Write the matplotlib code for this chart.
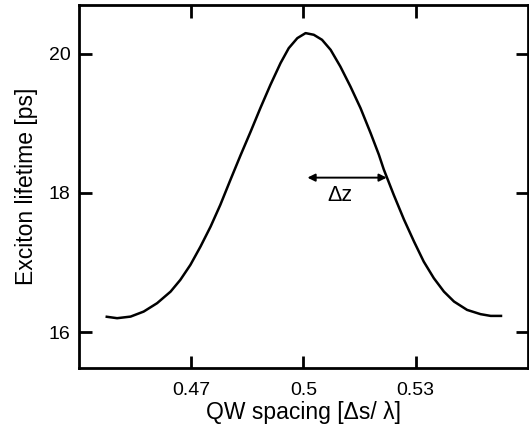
import matplotlib
matplotlib.use("Agg")
import matplotlib.pyplot as plt

# QW spacing [Δs/λ] vs exciton lifetime [ps]
spacing = [0.4471, 0.4502, 0.4538, 0.4573, 0.4609, 0.4645, 0.4671, 0.4698, 0.4725,
           0.4752, 0.4778, 0.4805, 0.4832, 0.4859, 0.4885, 0.4912, 0.4939, 0.4961,
           0.4984, 0.5006, 0.5028, 0.5050, 0.5073, 0.5099, 0.5126, 0.5153, 0.5180,
           0.5202, 0.5215, 0.5242, 0.5269, 0.5296, 0.5322, 0.5349, 0.5376, 0.5403,
           0.5438, 0.5474, 0.5501, 0.5532]
lifetime = [16.224, 16.201, 16.224, 16.296, 16.417, 16.583, 16.751, 16.967, 17.230,
            17.517, 17.829, 18.188, 18.540, 18.880, 19.218, 19.553, 19.865, 20.080,
            20.224, 20.296, 20.272, 20.200, 20.056, 19.816, 19.529, 19.218, 18.859,
            18.550, 18.340, 17.970, 17.620, 17.302, 17.014, 16.776, 16.583, 16.440,
            16.320, 16.259, 16.234, 16.234]

xticks = [0.47, 0.5, 0.53]
xtick_labels = ["0.47", "0.5", "0.53"]
yticks = [16, 18, 20]
arrow_x = [0.5011, 0.5223]
arrow_y = 18.22
label_pos = (0.5099, 17.97)

plt.rcParams['font.family'] = ['Liberation Sans', 'DejaVu Sans']

fig = plt.figure(figsize=(5.29, 4.30), dpi=100)
ax = fig.add_axes([0.1493, 0.1449, 0.8482, 0.8435])

ax.plot(spacing, lifetime, color='black', lw=1.8,
        solid_joinstyle='round', solid_capstyle='butt')

ax.set_xlim(0.44, 0.56)
ax.set_ylim(15.49, 20.70)
ax.set_xticks(xticks)
ax.set_xticklabels(xtick_labels)
ax.set_yticks(yticks)

for s in ax.spines.values():
    s.set_linewidth(2.0)

ax.tick_params(direction='in', length=9, width=2.0, top=True, right=True,
               labelsize=14, pad=10)
ax.tick_params(axis='y', pad=6)

ax.set_xlabel('QW spacing [Δs/ λ]', fontsize=16.5, labelpad=2)
ax.set_ylabel('Exciton lifetime [ps]', fontsize=16.5, labelpad=8)

ax.annotate('', xy=(arrow_x[0], arrow_y), xytext=(arrow_x[1], arrow_y),
            arrowprops=dict(arrowstyle='<|-|>', mutation_scale=11, lw=1.4,
                            color='black', shrinkA=0, shrinkB=0))
ax.text(label_pos[0], label_pos[1], 'Δz', fontsize=15.5, ha='center', va='center')

fig.savefig('out.png', dpi=100)
